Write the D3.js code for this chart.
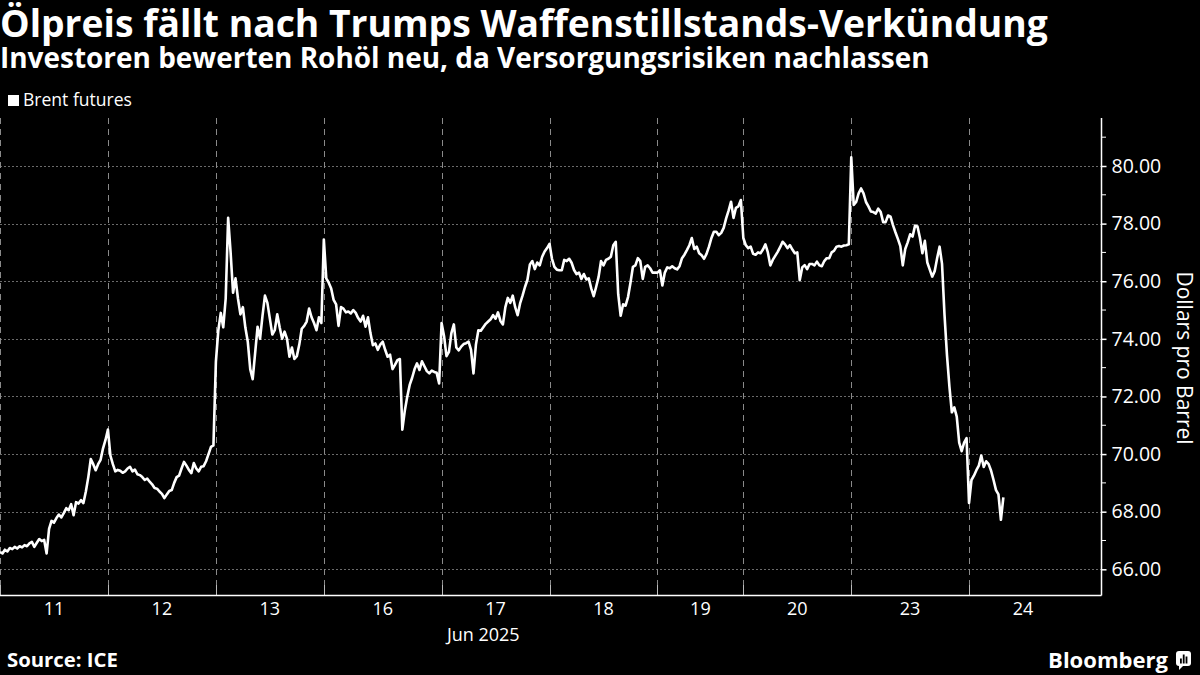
<!DOCTYPE html>
<html>
<head>
<meta charset="utf-8">
<script src="https://cdn.jsdelivr.net/npm/d3@7"></script>
<style>
    body { margin: 0; background: #000; }
    svg text { font-family: "Open Sans", "Noto Sans", sans-serif; fill: #fff; }
</style>
</head>
<body>
<svg width="1200" height="675"></svg>
<script>
// trading sessions shown on the axis (Brent trades ~22h a day, Monday sessions longer, Juneteenth short)
var dayLabels = ["11", "12", "13", "16", "17", "18", "19", "20", "23", "24"];
var sessionHours = [22, 22, 22, 24, 22, 22, 17.5, 22, 24, 22];
var barHours = 0.5; // 30-minute bars
var yTicks = [66, 68, 70, 72, 74, 76, 78, 80];

// Brent futures, USD per barrel, 30-min bars
var jun11 = [66.60, 66.55, 66.68, 66.62, 66.74, 66.70, 66.78, 66.72, 66.80, 66.76, 66.84, 66.80, 66.90, 66.95, 66.78,
    66.92, 67.05, 66.98, 67.02, 66.55, 67.40, 67.68, 67.62, 67.78, 67.90, 67.80, 67.95, 68.12, 68.05, 68.26, 67.88,
    68.33, 68.28, 68.40, 68.30, 68.70, 69.20, 69.83, 69.65, 69.44, 69.65, 69.80, 70.20, 70.49];
var jun12 = [70.85, 69.95, 69.65, 69.40, 69.45, 69.42, 69.35, 69.40, 69.50, 69.56, 69.40, 69.46, 69.30, 69.27, 69.20,
    69.10, 69.15, 69.04, 68.95, 68.82, 68.80, 68.70, 68.62, 68.47, 68.60, 68.72, 68.75, 69.00, 69.20, 69.25, 69.50,
    69.73, 69.60, 69.45, 69.34, 69.69, 69.50, 69.40, 69.56, 69.58, 69.75, 70.00, 70.25, 70.30];
var jun13 = [73.20, 74.30, 74.90, 74.40, 75.40, 78.20, 77.00, 75.60, 76.10, 75.40, 74.85, 75.10, 74.40, 73.90, 72.95,
    72.60, 73.50, 74.42, 74.00, 74.80, 75.50, 75.25, 74.70, 74.15, 74.30, 74.85, 74.40, 74.00, 74.25, 74.00, 73.38,
    73.70, 73.30, 73.40, 73.80, 74.35, 74.45, 74.60, 75.05, 74.75, 74.55, 74.30, 74.75, 74.55];
var jun16 = [77.45, 76.10, 75.95, 75.75, 75.35, 75.20, 74.45, 75.10, 75.05, 74.92, 74.95, 74.88, 75.00, 74.90, 74.72,
    74.60, 74.80, 74.42, 74.75, 74.20, 73.78, 73.84, 73.62, 73.80, 73.90, 73.62, 73.38, 73.45, 72.95, 73.10, 73.26,
    73.30, 70.85, 71.50, 71.99, 72.40, 72.65, 72.95, 73.15, 72.92, 73.22, 73.05, 72.88, 72.80, 72.90, 72.85, 72.82, 72.45];
var jun17 = [74.55, 74.10, 73.40, 73.55, 74.20, 74.50, 73.70, 73.60, 73.73, 73.82, 73.85, 73.90, 73.62, 72.80, 73.80,
    74.30, 74.28, 74.40, 74.52, 74.60, 74.68, 74.82, 74.70, 74.92, 74.62, 74.50, 75.10, 75.42, 75.25, 75.50, 75.10,
    74.82, 75.23, 75.50, 75.80, 76.05, 76.58, 76.70, 76.42, 76.65, 76.55, 76.85, 77.03, 77.15];
var jun18 = [77.30, 76.78, 76.50, 76.40, 76.38, 76.38, 76.74, 76.70, 76.78, 76.64, 76.39, 76.25, 76.30, 76.08, 76.25,
    76.06, 76.10, 75.75, 75.48, 75.80, 76.15, 76.70, 76.55, 76.74, 76.78, 76.85, 77.25, 77.37, 75.55, 74.80, 75.20,
    75.15, 75.45, 75.95, 76.50, 76.55, 76.80, 76.70, 76.08, 76.50, 76.55, 76.45, 76.30, 76.30];
var jun19 = [76.30, 76.38, 75.85, 76.30, 76.48, 76.45, 76.52, 76.45, 76.41, 76.52, 76.80, 76.92, 77.08, 77.25, 77.50,
    77.12, 77.20, 76.97, 76.90, 76.78, 76.95, 77.20, 77.50, 77.72, 77.72, 77.60, 77.68, 77.85, 78.18, 78.45, 78.76,
    78.20, 78.55, 78.60, 78.82];
var jun20 = [77.50, 77.25, 77.15, 77.20, 76.95, 76.92, 77.00, 76.97, 77.10, 77.28, 77.00, 76.55, 76.74, 76.88, 77.02,
    77.18, 77.37, 77.28, 77.15, 77.25, 77.10, 76.97, 77.00, 76.04, 76.48, 76.56, 76.42, 76.60, 76.60, 76.55, 76.68,
    76.55, 76.52, 76.70, 76.80, 76.80, 77.00, 77.06, 77.20, 77.22, 77.20, 77.24, 77.25, 77.28];
var jun23 = [80.30, 78.65, 78.75, 79.05, 79.22, 79.05, 78.75, 78.60, 78.42, 78.40, 78.35, 78.52, 78.40, 78.05, 78.05,
    78.28, 78.24, 77.95, 77.70, 77.47, 77.22, 76.55, 77.12, 77.35, 77.63, 77.55, 77.93, 77.90, 77.50, 76.97, 77.40,
    76.65, 76.40, 76.16, 76.35, 76.80, 77.20, 76.60, 74.85, 73.45, 72.35, 71.45, 71.62, 71.30, 70.40, 70.10, 70.40, 70.55];
var jun24 = [68.30, 69.10, 69.25, 69.44, 69.60, 69.95, 69.55, 69.75, 69.65, 69.42, 69.10, 68.75, 68.60, 67.72, 68.50];

var sessionPrices = [jun11, jun12, jun13, jun16, jun17, jun18, jun19, jun20, jun23, jun24];

var svg = d3.select("svg"),
    plotLeft = 0, plotRight = 1101, plotTop = 118, plotBottom = 595;

svg.append("rect").attr("width", 1200).attr("height", 675).attr("fill", "#000");

// session start times on a trading-hours axis
var dayStart = [];
var acc = 0;
sessionHours.forEach(function(h) { dayStart.push(acc); acc += h; });

var series = [];
sessionPrices.forEach(function(arr, d) {
    arr.forEach(function(v, i) {
        series.push({ t: dayStart[d] + i * barHours, v: v });
    });
});

var x = d3.scaleLinear().domain([0, 224.4]).range([plotLeft, plotRight]);
var y = d3.scaleLinear().domain([65.108, 81.666]).range([plotBottom, plotTop]);

// horizontal grid
svg.append("g").selectAll("line").data(yTicks).enter().append("line")
    .attr("x1", plotLeft).attr("x2", plotRight)
    .attr("y1", function(d) { return Math.round(y(d)) + 0.5; }).attr("y2", function(d) { return Math.round(y(d)) + 0.5; })
    .attr("stroke", "#6a6a6a").attr("stroke-width", 1).attr("stroke-dasharray", "2,2");

// vertical session separators
svg.append("g").selectAll("line").data(dayStart).enter().append("line")
    .attr("x1", function(d) { return Math.round(x(d)) + 0.5; }).attr("x2", function(d) { return Math.round(x(d)) + 0.5; })
    .attr("y1", plotTop).attr("y2", plotBottom)
    .attr("stroke", "#8a8a8a").attr("stroke-width", 1).attr("stroke-dasharray", "6,5");

// bottom ticks
svg.append("g").selectAll("line").data(dayStart).enter().append("line")
    .attr("x1", function(d) { return Math.round(x(d)) + 0.5; }).attr("x2", function(d) { return Math.round(x(d)) + 0.5; })
    .attr("y1", plotBottom - 10).attr("y2", plotBottom)
    .attr("stroke", "#bbb").attr("stroke-width", 1);

// price line
var line = d3.line().x(function(d) { return x(d.t); }).y(function(d) { return y(d.v); });
svg.append("path").datum(series)
    .attr("d", line)
    .attr("fill", "none").attr("stroke", "#fff").attr("stroke-width", 2.6)
    .attr("stroke-linejoin", "round");

// axes lines
svg.append("line").attr("x1", plotLeft).attr("x2", plotRight + 0.5).attr("y1", plotBottom + 0.5).attr("y2", plotBottom + 0.5)
    .attr("stroke", "#fff").attr("stroke-width", 1.5);
svg.append("line").attr("x1", plotRight + 0.5).attr("x2", plotRight + 0.5).attr("y1", plotTop).attr("y2", plotBottom + 0.5)
    .attr("stroke", "#fff").attr("stroke-width", 1.5);

// y axis
var yAxis = d3.axisRight(y).tickValues(yTicks).tickFormat(d3.format(".2f")).tickSize(5).tickPadding(5);
var gy = svg.append("g").attr("transform", "translate(" + (plotRight + 0.5) + ",0)").call(yAxis);
gy.select(".domain").remove();
gy.selectAll(".tick line").attr("stroke", "#fff").attr("stroke-width", 1.5);
gy.selectAll(".tick text").attr("fill", "#fff").attr("font-size", 19.5)
    .attr("font-family", "\"Open Sans\", sans-serif");

var minorTicks = d3.range(67, 82, 2);
svg.append("g").selectAll("line").data(minorTicks).enter().append("line")
    .attr("x1", plotRight).attr("x2", plotRight + 5)
    .attr("y1", function(d) { return y(d); }).attr("y2", function(d) { return y(d); })
    .attr("stroke", "#fff").attr("stroke-width", 1);

// x labels (session midpoints)
svg.append("g").selectAll("text").data(dayLabels).enter().append("text")
    .attr("x", function(d, i) { return x(dayStart[i] + sessionHours[i] / 2); })
    .attr("y", 615)
    .attr("text-anchor", "middle").attr("font-size", 18)
    .text(function(d) { return d; });
svg.append("text").attr("x", x(98.5)).attr("y", 641)
    .attr("text-anchor", "middle").attr("font-size", 18).text("Jun 2025");

// y axis title
svg.append("text").attr("transform", "translate(1177,358) rotate(90)")
    .attr("text-anchor", "middle").attr("font-size", 21).text("Dollars pro Barrel");

function fit(sel, w) {
    var len = sel.node().getComputedTextLength();
    sel.attr("font-size", parseFloat(sel.attr("font-size")) * w / len);
}

// header
fit(svg.append("text").attr("x", 0).attr("y", 37).attr("font-size", 33).attr("font-weight", "bold")
    .text("Ölpreis fällt nach Trumps Waffenstillstands-Verkündung"), 1048);
fit(svg.append("text").attr("x", 0).attr("y", 68).attr("font-size", 22).attr("font-weight", "bold")
    .text("Investoren bewerten Rohöl neu, da Versorgungsrisiken nachlassen"), 930);

// legend
svg.append("rect").attr("x", 8).attr("y", 95).attr("width", 11).attr("height", 11).attr("fill", "#fff");
fit(svg.append("text").attr("x", 23).attr("y", 106).attr("font-size", 16).text("Brent futures"), 109);

// footer
fit(svg.append("text").attr("x", 7).attr("y", 667).attr("font-size", 16).attr("font-weight", "bold")
    .text("Source: ICE"), 111);
var bb = svg.append("text").attr("x", 1168).attr("y", 668).attr("text-anchor", "end")
    .attr("font-size", 19).attr("font-weight", "bold").text("Bloomberg");
fit(bb, 120);

var logo = svg.append("g").attr("transform", "translate(1176,651)");
logo.append("rect").attr("width", 15).attr("height", 15).attr("rx", 3).attr("fill", "#fff");
logo.append("path").attr("d", "M3,14 L3,19 L8,14 Z").attr("fill", "#fff");
logo.selectAll(".bar").data([5, 9, 7]).enter().append("rect")
    .attr("x", function(d, i) { return 4 + i * 2.8; }).attr("y", function(d) { return 12.5 - d; })
    .attr("width", 1.8).attr("height", function(d) { return d; }).attr("fill", "#000");
</script>
</body>
</html>
